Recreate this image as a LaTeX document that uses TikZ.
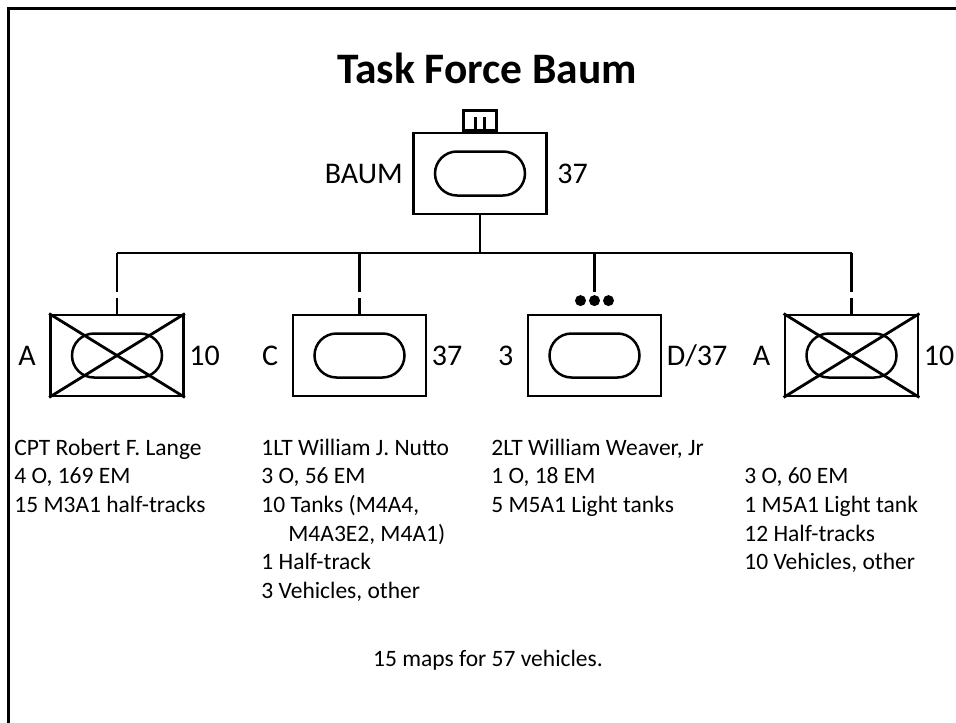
\documentclass[tikz,border=0pt]{standalone}
\usepackage{fontspec}
\setmainfont{Carlito}
\usetikzlibrary{calc,positioning}

\begin{document}
\begin{tikzpicture}[x=1pt, y=-1pt,
  line width=2.8pt,
  unit/.style={draw, minimum width=133pt, minimum height=81pt, inner sep=0pt},
  armor/.style={draw, line width=2.5pt, rounded corners=22pt,
    minimum width=90pt, minimum height=44pt, inner sep=0pt},
  side/.style={font=\fontsize{30}{36}\selectfont, inner sep=0pt},
  info/.style={font=\fontsize{23.5}{28.7}\selectfont, align=left,
    inner sep=0pt, anchor=base west},
  dot/.style={circle, fill, inner sep=0pt, minimum size=11pt}
]
  \useasboundingbox (0,0) rectangle (956,723);
  \draw[line width=2.5pt] (8.5,723) -- (8.5,8.5) -- (956,8.5);

  \node[font=\bfseries\fontsize{43.5}{52}\selectfont, anchor=base] (title)
    at (487,83) {Task Force Baum};

  % headquarters
  \node[unit] (hq) at (480,173.5) {};
  \node[armor] (hqoval) at (hq) {};
  \node[draw, minimum width=33pt, minimum height=20pt, inner sep=0pt,
    anchor=south] (hqmark) at (hq.north) {};
  \draw ($(hqmark.south)+(-4.5,0)$) -- ++(0,-15);
  \draw ($(hqmark.south)+(4.5,0)$) -- ++(0,-15);
  \node[side, left=8pt of hq] (hqname) {BAUM};
  \node[side, right=8pt of hq] (hqnum) {37};

  % companies and platoon
  \node[unit] (a) at (117,355.5) {};
  \node[unit] (c) at (359.5,355.5) {};
  \node[unit] (p) at (594.5,355.5) {};
  \node[unit] (b) at (851.5,355.5) {};
  \foreach \u in {a,c,p,b}
    \node[armor] (\u oval) at (\u) {};
  \foreach \u in {a,b} {
    \draw (\u.north west) -- (\u.south east);
    \draw (\u.south west) -- (\u.north east);
  }
  \node[side, left=12pt of a] (aname) {A};
  \node[side, right=3pt of a] (anum) {10};
  \node[side, left=12pt of c] (cname) {C};
  \node[side, right=3pt of c] (cnum) {37};
  \node[side, left=12pt of p] (pname) {3};
  \node[side, right=3pt of p] (pnum) {D/37};
  \node[side, left=12pt of b] (bname) {A};
  \node[side, right=3pt of b] (bnum) {10};

  % echelon marks
  \foreach \u in {a,c,b}
    \draw (\u.north) -- ++(0,-16);
  \node[dot] (pdot1) at ($(p.north)+(-14,-13)$) {};
  \node[dot] (pdot2) at ($(p.north)+(0,-13)$) {};
  \node[dot] (pdot3) at ($(p.north)+(14,-13)$) {};

  % lines
  \coordinate (bus) at (479,253);
  \draw (hq.south) -- (hq.south |- bus);
  \draw (a.north |- bus) -- (b.north |- bus);
  \foreach \u in {a,c,p,b}
    \draw (\u.north |- bus) -- ($(\u.north)+(0,-22)$);

  % strength (base = baseline of the last line)
  \node[info] (ainfo) at (13,512.4) {CPT Robert F. Lange\\4 O, 169 EM\\15 M3A1 half-tracks};
  \node[info] (cinfo) at (260,598.5) {1LT William J. Nutto\\3 O, 56 EM\\10 Tanks (M4A4,\\
    \hspace*{27pt}M4A3E2, M4A1)\\1 Half-track\\3 Vehicles, other};
  \node[info] (pinfo) at (490,512.4) {2LT William Weaver, Jr\\1 O, 18 EM\\5 M5A1 Light tanks};
  \node[info] (binfo) at (743,569.8) {3 O, 60 EM\\1 M5A1 Light tank\\12 Half-tracks\\10 Vehicles, other};
  \node[font=\fontsize{23.5}{28.7}\selectfont, anchor=base] (note)
    at (488,666) {15 maps for 57 vehicles.};
\end{tikzpicture}
\end{document}
